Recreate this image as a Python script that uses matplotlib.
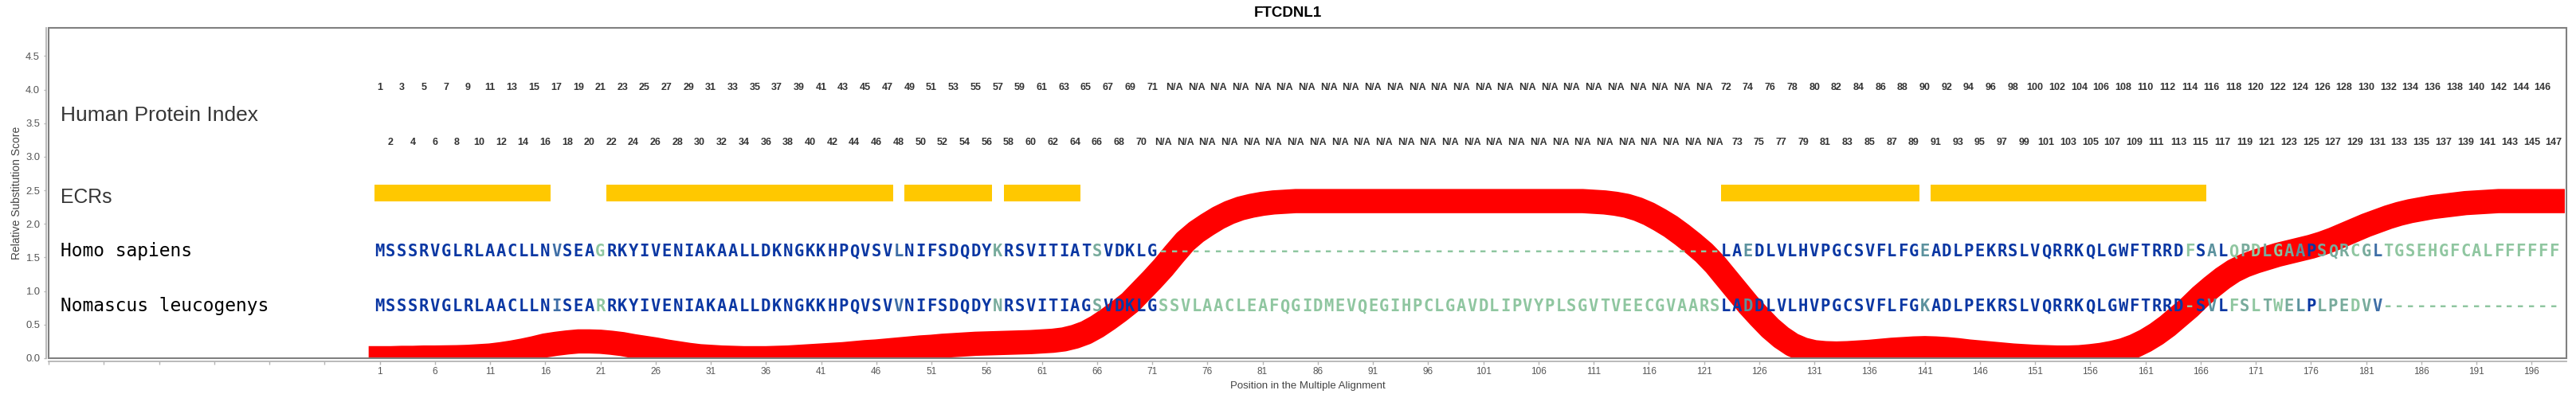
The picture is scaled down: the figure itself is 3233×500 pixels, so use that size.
import matplotlib
matplotlib.use("Agg")
import matplotlib.pyplot as plt
from matplotlib import font_manager as fm
from matplotlib.patches import Rectangle
import matplotlib.transforms as mtrans

# ---------------- data ----------------
title = "FTCDNL1"
species_names = ["Homo sapiens", "Nomascus leucogenys"]
seq_homo = ("MSSSRVGLRLAACLLNVSEAGRKYIVENIAKAALLDKNGKKHPQVSVLNIFSDQDYKRSVITIATSVDKLG"
            "---------------------------------------------------"
            "LAEDLVLHVPGCSVFLFGEADLPEKRSLVQRRKQLGWFTRRDFSALQPDLGAAPSQRCGLTGSEHGFCALFFFFFF")
seq_nomascus = ("MSSSRVGLRLAACLLNISEARRKYIVENIAKAALLDKNGKKHPQVSVVNIFSDQDYNRSVITIAGSVDKLG"
                "SSVLAACLEAFQGIDMEVQEGIHPCLGAVDLIPVYPLSGVTVEECGVAARS"
                "LADDLVLHVPGCSVFLFGKADLPEKRSLVQRRKQLGWFTRRD-SVLFSLTWELPLPEDVV"
                "----------------")

# conservation colour level at mismatching alignment positions (0 = identical)
mismatch_level = {17: 1, 21: 4, 48: 1, 57: 3, 66: 3, 125: 2, 141: 2, 165: 4,
                  167: 2, 169: 4, 170: 3, 171: 4, 172: 3, 173: 4, 174: 3, 175: 2,
                  177: 3, 178: 3, 179: 3, 180: 4, 181: 3, 182: 1}
level_colors = ["#0a37a3", "#3e6ea6", "#5c929e", "#78ab9c", "#8fc6a0"]

# evolutionarily conserved regions (alignment positions, inclusive)
ecr_start = [1, 22, 49, 58, 123, 142]
ecr_end = [16, 47, 56, 64, 140, 166]

# relative substitution score, alignment positions 0..199
score_pos = list(range(0, 200))
score = [0.00, 0.00, 0.00, 0.005, 0.005, 0.01, 0.01, 0.012, 0.015, 0.02,
         0.03, 0.04, 0.06, 0.085, 0.115, 0.15, 0.19, 0.215, 0.235, 0.25,
         0.25, 0.245, 0.23, 0.21, 0.18, 0.155, 0.13, 0.10, 0.075, 0.05,
         0.03, 0.02, 0.01, 0.005, 0.0, 0.0, 0.0, 0.005, 0.01, 0.02,
         0.03, 0.04, 0.05, 0.06, 0.075, 0.09, 0.10, 0.115, 0.13, 0.145,
         0.16, 0.17, 0.185, 0.195, 0.205, 0.215, 0.22, 0.225, 0.23, 0.235,
         0.24, 0.25, 0.26, 0.28, 0.32, 0.38, 0.47, 0.58, 0.70, 0.83,
         1.00, 1.17, 1.35, 1.55, 1.74, 1.88, 1.99, 2.09, 2.17, 2.23,
         2.27, 2.30, 2.32, 2.33, 2.34, 2.34, 2.34, 2.34, 2.34, 2.34,
         2.34, 2.34, 2.34, 2.34, 2.34, 2.34, 2.34, 2.34, 2.34, 2.34,
         2.34, 2.34, 2.34, 2.34, 2.34, 2.34, 2.34, 2.34, 2.34, 2.34,
         2.34, 2.33, 2.32, 2.30, 2.27, 2.22, 2.15, 2.06, 1.96, 1.84,
         1.71, 1.57, 1.40, 1.20, 1.00, 0.80, 0.62, 0.45, 0.31, 0.20,
         0.13, 0.09, 0.075, 0.07, 0.075, 0.085, 0.095, 0.11, 0.125, 0.135,
         0.145, 0.15, 0.145, 0.135, 0.12, 0.10, 0.085, 0.07, 0.055, 0.04,
         0.03, 0.02, 0.015, 0.01, 0.01, 0.015, 0.03, 0.05, 0.08, 0.12,
         0.18, 0.26, 0.36, 0.48, 0.62, 0.76, 0.92, 1.06, 1.19, 1.30,
         1.38, 1.44, 1.49, 1.54, 1.58, 1.62, 1.66, 1.71, 1.77, 1.84,
         1.91, 1.98, 2.04, 2.10, 2.15, 2.19, 2.22, 2.25, 2.27, 2.29,
         2.31, 2.32, 2.33, 2.34, 2.34, 2.34, 2.34, 2.34, 2.34, 2.34]

yticks = [0.0, 0.5, 1.0, 1.5, 2.0, 2.5, 3.0, 3.5, 4.0, 4.5]
xticks = list(range(-29, 200, 5))

# ---------------- fonts ----------------
def has_font(name):
    try:
        fm.findfont(fm.FontProperties(family=name), fallback_to_default=False)
        return True
    except Exception:
        return False

NARROW_OK = has_font("Liberation Sans Narrow")
NARROW = "Liberation Sans Narrow" if NARROW_OK else "Liberation Sans"
SANS = "Liberation Sans"
MONO = "DejaVu Sans Mono"

# ---------------- figure ----------------
W, H = 3233, 500
fig = plt.figure(figsize=(W / 100, H / 100), dpi=100)
ax = fig.add_axes([61 / W, 50 / H, (3221 - 61) / W, 415 / H])
ax.set_xlim(-29, 199.15)
ax.set_ylim(0, 4.92)

# substitution score band
ax.plot(score_pos, score, color="#ff0000", lw=21.9, solid_capstyle="butt",
        solid_joinstyle="round", zorder=1)

# ECR bars
ax.broken_barh([(s - 0.45, e - s + 0.95) for s, e in zip(ecr_start, ecr_end)],
               (2.33, 0.25), facecolors="#ffc800", edgecolor="none", zorder=2)

# sequences
def pos_color(i):
    p = i + 1
    if seq_homo[i] == "-" or seq_nomascus[i] == "-":
        return level_colors[4]
    return level_colors[mismatch_level.get(p, 0)]

for seq, base in [(seq_homo, 1.515), (seq_nomascus, 0.70)]:
    for i, ch in enumerate(seq):
        ax.text(i + 1, base, ch, ha="center", va="baseline", family=MONO,
                weight="bold", fontsize=14.8, color=pos_color(i), zorder=4)

# human protein index rows
idx = 0
idx_size = 11 if NARROW_OK else 9
for i, ch in enumerate(seq_homo):
    p = i + 1
    if ch != "-":
        idx += 1
        lab = str(idx)
    else:
        lab = "N/A"
    yb = 4.0 if p % 2 == 1 else 3.175
    ax.text(p, yb, lab, ha="center", va="baseline", family=NARROW,
            weight="bold", fontsize=idx_size, color="#333333", zorder=4)

# row labels
tr = mtrans.blended_transform_factory(ax.transAxes, ax.transData)
lx = (75.5 - 61) / (3221 - 61)
ax.text(lx, 3.53, "Human Protein Index", transform=tr, ha="left", va="baseline",
        family=SANS, fontsize=19, color="#363636")
ax.text(lx, 2.31, "ECRs", transform=tr, ha="left", va="baseline",
        family=SANS, fontsize=17.8, color="#363636")
ax.text(lx, 1.515, species_names[0], transform=tr, ha="left", va="baseline",
        family=MONO, fontsize=16.5, color="black")
ax.text(lx, 0.70, species_names[1], transform=tr, ha="left", va="baseline",
        family=MONO, fontsize=16.5, color="black")

# axes styling
for s in ["top", "right"]:
    ax.spines[s].set_visible(False)
ax.spines["left"].set_position(("outward", 2.2))
ax.spines["bottom"].set_position(("outward", 2.9))
for s in ["left", "bottom"]:
    ax.spines[s].set_color("#b4b4b4")
    ax.spines[s].set_linewidth(1.3)
ax.add_patch(Rectangle((0, 0), 1, 1, transform=ax.transAxes, fill=False,
                       ec="#808080", lw=1.5, clip_on=False, zorder=6))

ax.set_yticks(yticks)
ax.set_yticklabels([f"{v:.1f}" for v in yticks], family=SANS, fontsize=9.4,
                   color="#555555")
ax.set_xticks(xticks)
ax.set_xticklabels([str(t) if t >= 1 else "" for t in xticks], family=NARROW,
                   fontsize=9.5 if NARROW_OK else 8.5, color="#555555")
ax.tick_params(axis="y", length=2.2, width=1, color="#b4b4b4", pad=3.5)
ax.tick_params(axis="x", length=2.9, width=1, color="#b4b4b4", pad=2.2)

fig.text(20.7 / W, 1 - 242.5 / H, "Relative Substitution Score", rotation=90,
         ha="center", va="center", family=SANS, fontsize=10, color="#444444")
fig.text(1641 / W, 12 / H, "Position in the Multiple Alignment", ha="center",
         va="baseline", family=NARROW, fontsize=11 if NARROW_OK else 9.5,
         color="#444444")
fig.text(0.5, 1 - 21 / H, title, ha="center", va="baseline", family=SANS,
         weight="bold", fontsize=13.5, color="black")

fig.savefig("out.png", dpi=100)
